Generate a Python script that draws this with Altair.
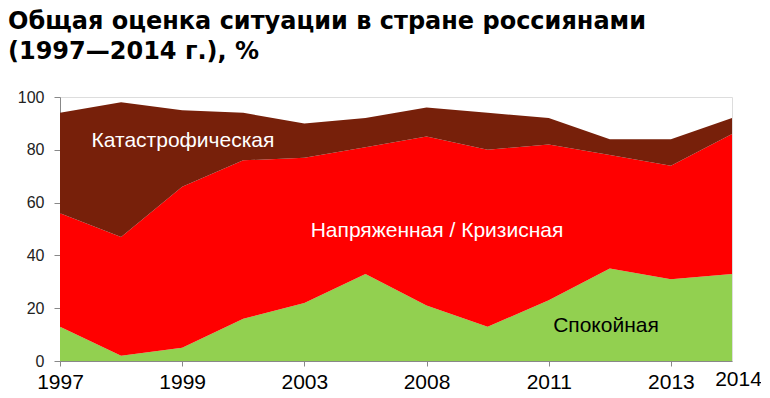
import altair as alt
import pandas as pd

# ---- data ----
tick_labels = ["1997", "", "1999", "", "2003", "", "2008", "", "2011", "", "2013", "2014"]
calm = [13, 2, 5, 16, 22, 33, 21, 13, 23, 35, 31, 33]          # Спокойная
tense = [43, 45, 61, 60, 55, 48, 64, 67, 59, 43, 43, 53]       # Напряженная / Кризисная
catastrophic = [38, 51, 29, 18, 13, 11, 11, 14, 10, 6, 10, 6]  # Катастрофическая

series_names = ["Спокойная", "Напряженная / Кризисная", "Катастрофическая"]
series_values = [calm, tense, catastrophic]
series_colors = ["#92D050", "#FF0000", "#77200A"]
title_lines = ["Общая оценка ситуации в стране россиянами", "(1997\u20142014 г.), %"]

rows = []
for order, (name, vals) in enumerate(zip(series_names, series_values)):
    for i, v in enumerate(vals):
        rows.append({"idx": i, "series": name, "value": v, "order": order})
df = pd.DataFrame(rows)

FONT = "Liberation Sans"
TITLE_FONT = "DejaVu Sans"
label_expr = "[" + ",".join("'%s'" % t for t in tick_labels) + "][datum.value]"
last = len(tick_labels) - 1

area = alt.Chart(df).mark_area(strokeWidth=0).encode(
    x=alt.X("idx:Q",
            scale=alt.Scale(domain=[0, last], nice=False, zero=False),
            axis=alt.Axis(
                title=None,
                values=[i for i, t in enumerate(tick_labels) if t],
                labelExpr=label_expr,
                labelFontSize=21, labelColor="black", labelFont=FONT,
                labelPadding=alt.ConditionalAxisNumber(
                    condition={"test": "datum.value == %d" % last, "value": 2}, value=5),
                labelOffset=alt.ConditionalAxisNumber(
                    condition={"test": "datum.value == %d" % last, "value": 6}, value=0),
                tickColor=alt.ConditionalAxisColor(
                    condition={"test": "datum.value == %d" % last, "value": "transparent"},
                    value="#888888"),
                tickSize=5, domainColor="#888888", grid=False,
                labelFlush=False, labelOverlap=False)),
    y=alt.Y("value:Q", stack="zero",
            scale=alt.Scale(domain=[0, 100], nice=False),
            axis=alt.Axis(title=None, values=[0, 20, 40, 60, 80, 100],
                          labelFontSize=16, labelColor="#222222", labelFont=FONT,
                          tickSize=6, tickColor="#888888", domainColor="#888888",
                          labelPadding=10, grid=False)),
    color=alt.Color("series:N", scale=alt.Scale(domain=series_names, range=series_colors),
                    legend=None),
    order=alt.Order("order:Q"),
)

def label(text, x, y, color, size=21, weight="normal", align="center", font=FONT):
    return alt.Chart(pd.DataFrame({"t": [text]})).mark_text(
        font=font, fontSize=size, fontWeight=weight, color=color,
        align=align, baseline="alphabetic"
    ).encode(text="t:N", x=alt.value(x), y=alt.value(y))

layers = [
    area,
    label(series_names[2], 123, 50, "white"),
    label(series_names[1], 377, 140, "white"),
    label(series_names[0], 546, 235, "black"),
    label(title_lines[0], -52, -68, "black", size=24, weight="bold", align="left", font=TITLE_FONT),
    label(title_lines[1], -52, -38, "black", size=24, weight="bold", align="left", font=TITLE_FONT),
]

chart = alt.layer(*layers).properties(
    width=672, height=264,
    autosize=alt.AutoSizeParams(type="none"),
    padding={"left": 52, "top": 89, "right": 29, "bottom": 34},
).configure_view(stroke=None).configure(background="white")

chart.save("out.html", embed_options={"renderer": "svg", "actions": False})
